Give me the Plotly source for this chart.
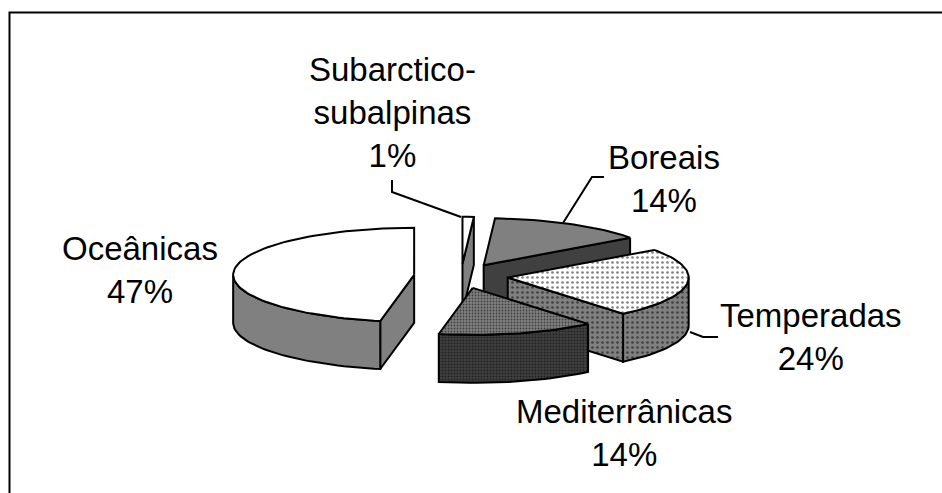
import math
import plotly.graph_objects as go

categories = ["Subarctico-<br>subalpinas", "Boreais", "Temperadas", "Mediterrânicas", "Oceânicas"]
shares = [1, 14, 24, 14, 47]
pct_labels = ["1%", "14%", "24%", "14%", "47%"]

W, H = 942, 493
CX, CY, RX, RY, DEPTH, EXPLODE = 461, 276, 181, 47, 48, 0.26
LW = 2

top_styles = [
    dict(color="#ffffff"),
    dict(color="#808080"),
    dict(color="#ffffff", pattern=dict(shape=".", size=5, solidity=0.22, fg="#000000")),
    dict(color="#808080", pattern=dict(shape=".", size=3, solidity=0.3, fg="#000000")),
    dict(color="#ffffff"),
]
wall_styles = [
    dict(color="#808080"),
    dict(color="#404040"),
    dict(color="#808080", pattern=dict(shape=".", size=5, solidity=0.22, fg="#000000")),
    dict(color="#404040", pattern=dict(shape=".", size=3, solidity=0.3, fg="#000000")),
    dict(color="#808080"),
]
draw_order = [4, 0, 1, 2, 3]
label_pos = [(392, 112), (664, 179), (811, 337), (624, 433), (140, 270)]
leaders = [
    ([392, 392, 461], [180, 192, 217]),
    ([604, 592, 563], [177, 177, 223]),
    ([690, 703, 718], [332, 337, 337]),
]

fig = go.Figure()


def add_poly(xs, ys, style):
    kw = dict(fillcolor=style["color"])
    p = style.get("pattern")
    if p:
        kw["fillpattern"] = dict(
            shape=p["shape"], size=p["size"], solidity=p["solidity"],
            fgcolor=p["fg"], bgcolor=style["color"], fillmode="overlay",
        )
    fig.add_trace(go.Scatter(
        x=list(xs) + [xs[0]], y=list(ys) + [ys[0]], mode="lines", fill="toself",
        line=dict(color="#000000", width=LW), hoverinfo="skip", showlegend=False, **kw,
    ))


total = sum(shares)
bounds = [0.0]
for s in shares:
    bounds.append(bounds[-1] + 360.0 * s / total)

for i in draw_order:
    a0, a1 = bounds[i], bounds[i + 1]
    mid = math.radians((a0 + a1) / 2)
    cx = CX + EXPLODE * RX * math.sin(mid)
    cy = CY - EXPLODE * RY * math.cos(mid)

    def pt(a):
        r = math.radians(a)
        return cx + RX * math.sin(r), cy - RY * math.cos(r)

    n = max(2, int((a1 - a0) / 2))
    angles = [a0 + (a1 - a0) * k / n for k in range(n + 1)]

    # visible walls: those whose top edge runs leftwards on screen
    if math.sin(math.radians(a0)) < -1e-9:
        px, py = pt(a0)
        add_poly([cx, px, px, cx], [cy, py, py + DEPTH, cy + DEPTH], wall_styles[i])
    front = [a for a in angles if 90 <= a <= 270]
    if len(front) >= 2:
        arc = [pt(a) for a in front]
        xs = [p[0] for p in arc] + [p[0] for p in reversed(arc)]
        ys = [p[1] for p in arc] + [p[1] + DEPTH for p in reversed(arc)]
        add_poly(xs, ys, wall_styles[i])
    if math.sin(math.radians(a1)) > 1e-9:
        px, py = pt(a1)
        add_poly([px, cx, cx, px], [py, cy, cy + DEPTH, py + DEPTH], wall_styles[i])

    rim = [pt(a) for a in angles]
    add_poly([cx] + [p[0] for p in rim], [cy] + [p[1] for p in rim], top_styles[i])

for lx, ly in leaders:
    fig.add_trace(go.Scatter(x=lx, y=ly, mode="lines", line=dict(color="#000000", width=LW),
                             hoverinfo="skip", showlegend=False))

for name, pct, (x, y) in zip(categories, pct_labels, label_pos):
    fig.add_annotation(x=x, y=y, text=f"{name}<br>{pct}", showarrow=False,
                       xanchor="center", yanchor="middle",
                       font=dict(family="Liberation Sans", size=33, color="#000000"))

fig.update_layout(
    width=W, height=H, margin=dict(l=0, r=0, t=0, b=0),
    paper_bgcolor="#ffffff", plot_bgcolor="#ffffff", showlegend=False,
    xaxis=dict(range=[0, W], visible=False, fixedrange=True),
    yaxis=dict(range=[H, 0], visible=False, fixedrange=True),
    shapes=[dict(type="path", path="M 9.5 520 L 9.5 12.5 L 960 12.5", xref="x", yref="y",
                 line=dict(color="#000000", width=2), layer="below")],
)
fig.write_html("out.html", config=dict(displayModeBar=False),
               post_script="document.body.style.margin='0';document.documentElement.style.overflow='hidden';")
